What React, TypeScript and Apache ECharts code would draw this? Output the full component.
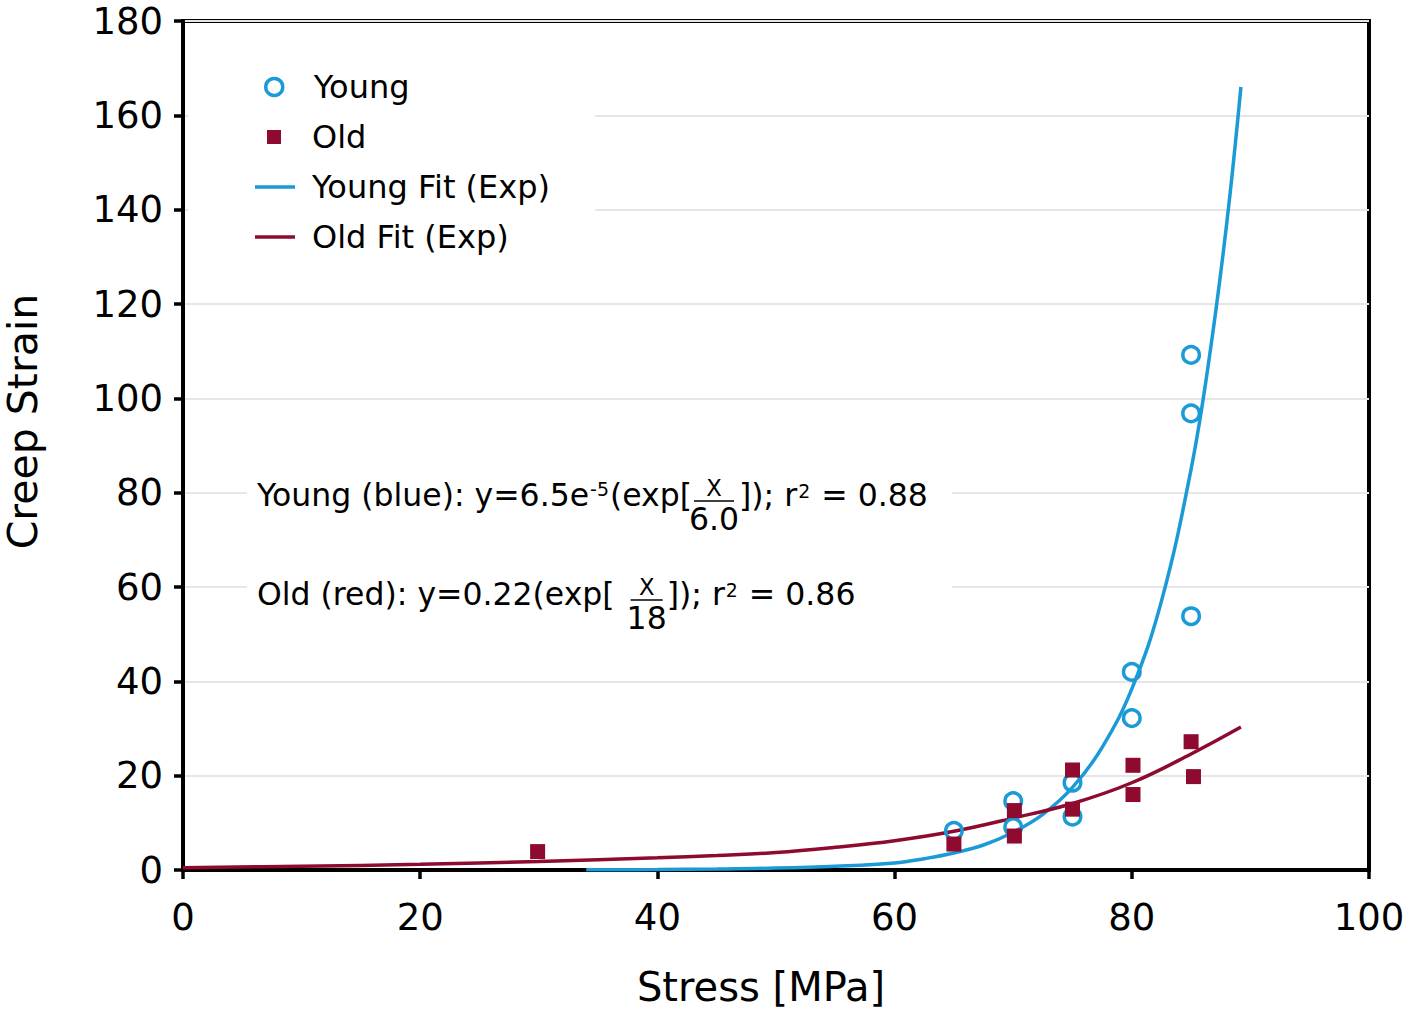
import React, { useEffect, useRef } from 'react';
import * as echarts from 'echarts';

const FONT = 'DejaVu Sans';
const BLUE = '#1a9ad6';
const RED = '#8e0a2e';

// measured points
const youngStress = [65, 70, 70, 75, 75, 80, 80, 85, 85, 85];
const youngStrain = [8.3, 14.6, 9.1, 18.5, 11.3, 42.0, 32.2, 109.2, 96.8, 53.8];
const oldStress = [29.9, 65, 70.1, 70.1, 75, 75, 80.1, 80.1, 85, 85.2];
const oldStrain = [3.9, 5.5, 12.6, 7.2, 21.2, 12.9, 22.2, 16.0, 27.2, 19.8];

// fitted curves
const youngFitStress = [34, 40, 45, 50, 55, 60, 62.5, 65, 67.5, 70, 72.5, 75, 77.5, 80, 82.5, 85, 86.5, 88, 89.2];
const youngFitStrain = [0.05, 0.1, 0.2, 0.4, 0.8, 1.5, 2.4, 3.6, 5.3, 8.0, 11.8, 17.5, 26, 38.4, 57, 85, 108, 137, 166];
const oldFitStress = [0, 10, 20, 30, 40, 45, 50, 55, 60, 65, 70, 75, 80, 85, 89.2];
const oldFitStrain = [0.5, 0.8, 1.2, 1.8, 2.6, 3.1, 3.7, 4.8, 6.2, 8.2, 11.0, 14.1, 18.5, 24.6, 30.3];

const seriesNames = ['Young', 'Old', 'Young Fit (Exp)', 'Old Fit (Exp)'];
const xName = 'Stress [MPa]';
const yName = 'Creep Strain';

type Seg = { t: 'n' | 'sup' | 'frac'; s?: string; num?: string; den?: string; dy?: number; padL?: number; padR?: number };
const youngEq: Seg[] = [
  { t: 'n', s: 'Young (blue): y=6.5e' },
  { t: 'sup', s: '-5', dy: -6 },
  { t: 'n', s: '(exp[' },
  { t: 'frac', num: 'X', den: '6.0', padL: -3, padR: 0 },
  { t: 'n', s: ']); r' },
  { t: 'sup', s: '2', dy: -4 },
  { t: 'n', s: ' = 0.88' },
];
const oldEq: Seg[] = [
  { t: 'n', s: 'Old (red): y=0.22(exp[' },
  { t: 'frac', num: 'X', den: '18', padL: 12, padR: 0 },
  { t: 'n', s: ']); r' },
  { t: 'sup', s: '2', dy: -4 },
  { t: 'n', s: ' = 0.86' },
];

const zip = (a: number[], b: number[]) => a.map((v, i) => [v, b[i]]);

let ctx: CanvasRenderingContext2D | null = null;
function measure(text: string, size: number) {
  if (!ctx) ctx = document.createElement('canvas').getContext('2d');
  if (!ctx) return text.length * size * 0.6;
  ctx.font = `${size}px "${FONT}"`;
  return ctx.measureText(text).width;
}

function txt(s: string, x: number, y: number, size: number, align = 'left') {
  return {
    type: 'text', z: 10, x, y,
    style: { text: s, fontSize: size, fontFamily: FONT, fill: '#000', align, verticalAlign: 'middle' },
  };
}

function eqGraphics(segs: Seg[], x0: number, mid: number, main: number) {
  const els: any[] = [];
  let x = x0;
  for (const s of segs) {
    if (s.t === 'n') {
      els.push(txt(s.s!, x, mid, main));
      x += measure(s.s!, main);
    } else if (s.t === 'sup') {
      const sz = main * 0.6;
      els.push(txt(s.s!, x + 1, mid + (s.dy || 0), sz));
      x += measure(s.s!, sz) + 2;
    } else {
      x += s.padL || 0;
      const nsz = main * 0.72;
      const wn = measure(s.num!, nsz);
      const wd = measure(s.den!, main);
      const w = Math.max(wn, wd);
      const cx = x + w / 2;
      const bw = Math.max(wn + 12, w * 0.8);
      els.push(txt(s.num!, cx, mid - 7, nsz, 'center'));
      els.push({ type: 'line', z: 10, shape: { x1: cx - bw / 2, y1: mid + 6, x2: cx + bw / 2, y2: mid + 6 }, style: { stroke: '#000', lineWidth: 1.5 } });
      els.push(txt(s.den!, cx, mid + 24, main, 'center'));
      x += w + (s.padR || 0);
    }
  }
  return els;
}

export default function App() {
  const ref = useRef<HTMLDivElement>(null);
  useEffect(() => {
    if (!ref.current) return;
    const chart = echarts.init(ref.current, undefined, { renderer: 'svg' });
    const legendText = { fontSize: 32, color: '#000', fontFamily: FONT };
    const axisCommon = {
      axisLine: { show: true, onZero: false, lineStyle: { color: '#000', width: 4 } },
      axisTick: { show: true, length: 9, lineStyle: { color: '#000', width: 3.5 } },
    };
    const option: any = {
      animation: false,
      backgroundColor: '#fff',
      textStyle: { fontFamily: FONT },
      grid: {
        left: 183, right: 37, top: 21, bottom: 146, containLabel: false, outerBoundsMode: 'none',
        show: true, borderColor: '#000', borderWidth: 4, backgroundColor: 'transparent',
      },
      xAxis: {
        type: 'value', min: 0, max: 100, interval: 20,
        name: xName, nameLocation: 'middle', nameGap: 97,
        nameTextStyle: { fontSize: 40, color: '#000', fontFamily: FONT, padding: [0, 30, 0, 0] },
        ...axisCommon,
        axisLabel: { fontSize: 37, color: '#000', margin: 29, fontFamily: FONT },
        splitLine: { show: false },
      },
      yAxis: {
        type: 'value', min: 0, max: 180, interval: 20,
        name: yName, nameLocation: 'middle', nameGap: 140, nameRotate: 90,
        nameTextStyle: { fontSize: 41, color: '#000', fontFamily: FONT, padding: [0, 0, 0, 48] },
        ...axisCommon,
        axisLabel: { fontSize: 37, color: '#000', margin: 20, fontFamily: FONT },
        splitLine: { show: true, lineStyle: { color: '#e6e6e6', width: 2 } },
      },
      legend: [
        {
          data: [{ name: seriesNames[0], itemStyle: { color: '#fff', borderColor: BLUE, borderWidth: 3.5 } }],
          orient: 'vertical', left: 264, top: 71, padding: 0, itemWidth: 17, itemHeight: 17,
          textStyle: { ...legendText, padding: [0, 0, 0, 26] },
        },
        { data: [seriesNames[1]], orient: 'vertical', left: 267, top: 121, padding: 0, itemWidth: 14, itemHeight: 14, textStyle: { ...legendText, padding: [0, 0, 0, 26] } },
        {
          data: [{ name: seriesNames[2], icon: 'rect' }, { name: seriesNames[3], icon: 'rect' }],
          orient: 'vertical', left: 255, top: 171, padding: 0, itemGap: 18, itemWidth: 40, itemHeight: 3.5,
          textStyle: { ...legendText, padding: [0, 0, 0, 12] },
        },
      ],
      graphic: [
        { type: 'rect', z: 1, shape: { x: 188, y: 40, width: 407, height: 225 }, style: { fill: '#fff' } },
        { type: 'rect', z: 1, shape: { x: 247, y: 462, width: 705, height: 180 }, style: { fill: '#fff' } },
        ...eqGraphics(youngEq, 257, 495, 31.5),
        ...eqGraphics(oldEq, 257, 594, 31.5),
      ],
      series: [
        {
          name: seriesNames[0], type: 'scatter', data: zip(youngStress, youngStrain), z: 3,
          symbol: 'circle', symbolSize: 16.5,
          itemStyle: { color: 'rgba(255,255,255,0)', borderColor: BLUE, borderWidth: 3.5, opacity: 1 },
        },
        {
          name: seriesNames[1], type: 'scatter', data: zip(oldStress, oldStrain), z: 4,
          symbol: 'rect', symbolSize: 15,
          itemStyle: { color: RED, opacity: 1 },
        },
        {
          name: seriesNames[2], type: 'line', data: zip(youngFitStress, youngFitStrain), z: 2,
          symbol: 'none', showSymbol: false, smooth: 0.4, lineStyle: { color: BLUE, width: 3.5 }, itemStyle: { color: BLUE },
        },
        {
          name: seriesNames[3], type: 'line', data: zip(oldFitStress, oldFitStrain), z: 2,
          symbol: 'none', showSymbol: false, smooth: 0.4, lineStyle: { color: RED, width: 3.5 }, itemStyle: { color: RED },
        },
      ],
    };
    chart.setOption(option);
    return () => chart.dispose();
  }, []);
  return <div ref={ref} style={{ width: 1406, height: 1016, position: 'absolute', left: 0, top: 0 }} />;
}
